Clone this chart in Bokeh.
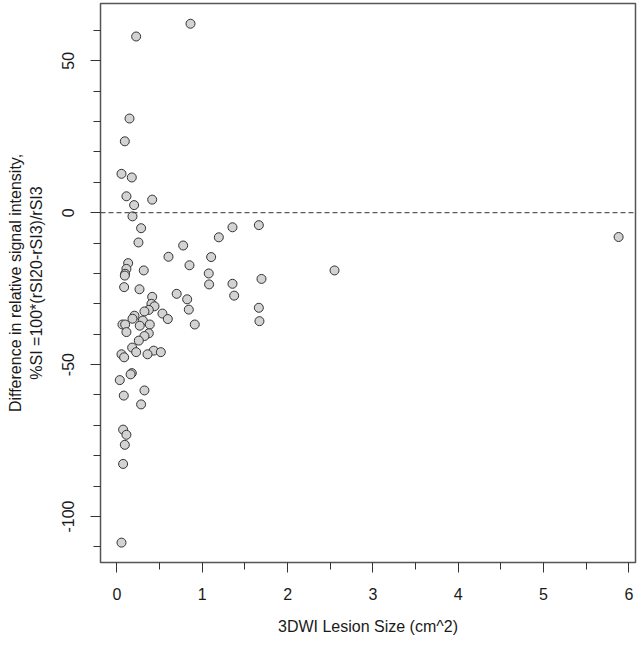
from bokeh.plotting import figure
from bokeh.models import FixedTicker, Span, Range1d, ColumnDataSource, LinearAxis
from bokeh.embed import file_html
from bokeh.resources import INLINE

lesion_size = [0.225, 0.862, 0.147, 0.092, 0.053, 0.174, 0.111, 0.201, 0.413, 0.182,
               0.283, 0.252, 0.131, 0.111, 0.096, 0.092, 0.314, 0.604, 0.776, 0.850,
               1.104, 1.076, 1.194, 1.354, 1.663, 1.080, 1.354, 1.694, 2.550, 0.700,
               0.823, 1.374, 0.084, 0.264, 0.413, 0.842, 0.912, 0.404, 0.440, 0.373,
               0.322, 0.533, 0.596, 0.205, 0.182, 0.303, 0.064, 0.096, 0.267, 0.385,
               0.111, 0.373, 0.322, 0.256, 0.178, 0.225, 0.431, 0.514, 0.358, 0.053,
               0.084, 0.174, 0.160, 0.033, 0.322, 0.080, 0.283, 0.072, 0.111, 0.092,
               0.072, 0.053, 1.663, 1.670, 5.880]
si_diff = [58.0, 62.2, 31.0, 23.5, 12.8, 11.6, 5.4, 2.5, 4.3, -1.2,
           -5.1, -9.8, -16.6, -18.5, -20.1, -20.7, -19.0, -14.5, -10.8, -17.3,
           -14.6, -20.0, -8.1, -4.8, -4.1, -23.6, -23.4, -21.8, -19.0, -26.7,
           -28.5, -27.3, -24.5, -25.2, -27.7, -31.9, -36.8, -30.0, -30.8, -32.0,
           -32.5, -33.2, -35.0, -33.9, -34.9, -35.5, -36.8, -36.8, -37.2, -36.8,
           -39.3, -39.7, -40.6, -42.1, -44.4, -45.9, -45.4, -45.9, -46.6, -46.6,
           -47.6, -52.8, -53.2, -55.1, -58.5, -60.2, -63.1, -71.4, -73.1, -76.4,
           -82.7, -108.6, -31.3, -35.7, -8.0]

x_ticks = [0, 1, 2, 3, 4, 5, 6]
x_minor = [0.5, 1.5, 2.5, 3.5, 4.5, 5.5]
y_ticks = [-100, -50, 0, 50]
y_tick_labels = ["-100", "-50", "0", "50"]
y_minor = [-110, -90, -80, -70, -60, -40, -30, -20, -10, 10, 20, 30, 40, 60]

x_title = "3DWI Lesion Size (cm^2)"
y_title_1 = "Difference in relative signal intensity,"
y_title_2 = "%SI =100*(rSI20-rSI3)/rSI3"

FONT = "Liberation Sans"
TXT = "#1a1a1a"

p = figure(width=638, height=640, output_backend="svg", toolbar_location=None,
           x_range=Range1d(-0.193, 6.078), y_range=Range1d(-115.14, 68.86),
           min_border_left=100, min_border_right=3, min_border_top=3,
           min_border_bottom=78)
p.background_fill_color = "white"
p.border_fill_color = "white"
p.outline_line_color = "#555555"
p.outline_line_width = 1.5
p.grid.visible = False

for ax in (p.xaxis[0], p.yaxis[0]):
    ax.axis_line_color = None
    ax.major_tick_line_color = "#333333"
    ax.minor_tick_line_color = "#333333"
    ax.major_tick_in = 0
    ax.minor_tick_in = 0
    ax.major_tick_out = 10
    ax.minor_tick_out = 7
    ax.major_label_text_font = FONT
    ax.major_label_text_font_size = "16px"
    ax.major_label_text_color = TXT
    ax.axis_label_text_font = FONT
    ax.axis_label_text_font_size = "16px"
    ax.axis_label_text_font_style = "normal"
    ax.axis_label_text_color = TXT

p.xaxis[0].ticker = FixedTicker(ticks=x_ticks, minor_ticks=x_minor)
p.yaxis[0].ticker = FixedTicker(ticks=y_ticks, minor_ticks=y_minor)
p.xaxis[0].major_label_overrides = {t: str(t) for t in x_ticks}
p.yaxis[0].major_label_overrides = dict(zip(y_ticks, y_tick_labels))
p.xaxis[0].major_label_standoff = 15
p.yaxis[0].major_label_standoff = 16
p.yaxis[0].major_label_orientation = "vertical"

p.xaxis[0].axis_label = x_title
p.xaxis[0].axis_label_standoff = 15
p.yaxis[0].axis_label = y_title_2
p.yaxis[0].axis_label_standoff = 15

outer = LinearAxis(ticker=FixedTicker(ticks=[]), axis_label=y_title_1,
                   axis_line_color=None, major_tick_out=0, major_tick_in=0,
                   minor_tick_out=0, minor_tick_in=0, major_label_standoff=0,
                   axis_label_standoff=1, axis_label_text_font=FONT,
                   axis_label_text_font_size="16px",
                   axis_label_text_font_style="normal",
                   axis_label_text_color=TXT)
p.add_layout(outer, "left")

p.add_layout(Span(location=0, dimension="width", line_color="#333333",
                  line_width=1, line_dash="5 3"))

src = ColumnDataSource(data=dict(x=lesion_size, y=si_diff))
p.scatter("x", "y", source=src, size=9, fill_color="#d3d3d3",
          line_color="#333333", line_width=1)

open("out.html", "w").write(file_html(p, INLINE))
